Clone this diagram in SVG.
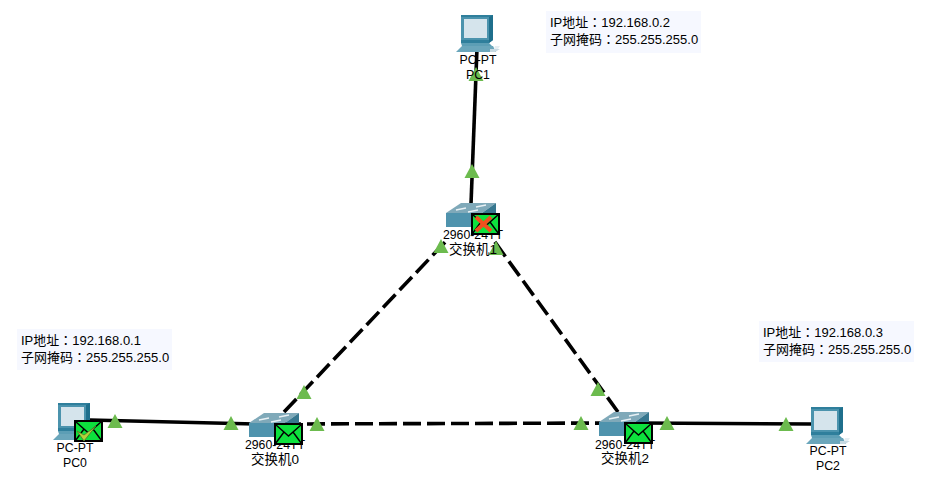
<svg xmlns="http://www.w3.org/2000/svg" width="933" height="502" viewBox="0 0 933 502">
<style>
text{font-family:"Liberation Sans","Noto Sans CJK TC",sans-serif;font-size:12.3px;fill:#000}
.c{text-anchor:middle}
.cjk{font-size:13.5px}
.n{font-size:13px}
.note{fill:#f6f8ff}
.solid{stroke:#000;stroke-width:3.6;fill:none}
.dash{stroke:#000;stroke-width:3.6;fill:none;stroke-dasharray:18 6}
.tri{fill:#6cbb4e}
</style>
<defs>
<g id="pc">
<path d="M5 0H37V25L33 28H5Z" fill="#2f7f9c"/>
<path d="M5 2L33 2V25H5Z" fill="#4b93ad"/>
<rect x="8" y="4" width="23" height="19" fill="#d5e4ec"/>
<path d="M33 2L37 0V25L33 28Z" fill="#1f6f8c"/>
<path d="M5 28H33L36 31H6Z" fill="#5c9eb5"/>
<path d="M0 37L6 31H37L40 37Z" fill="#6aa6bb"/>
<path d="M34 34L44 34L39 37H34Z" fill="#c6d9e2"/>
<path d="M39 31L44 31L42 34H38Z" fill="#e6eef2"/>
</g>
<g id="sw">
<path d="M0 10L15 0H50L36 10Z" fill="#7fa9b9"/>
<path d="M0 10H36V24H0Z" fill="#4f93ad"/>
<path d="M36 10L50 0V14L36 24Z" fill="#37778f"/>
<path d="M10 7L20 5M30 4L40 2M22 9L32 7" stroke="#e8f0f4" stroke-width="1.5"/>
</g>
<g id="env">
<rect x="0" y="0" width="27" height="20" fill="#0de23d" stroke="#000" stroke-width="2"/>
<path d="M0.5 0.5L13.500 12L26.500 0.5M0.5 19.500L9 8M26.500 19.500L18 8" fill="none" stroke="#000" stroke-width="1.4"/>
</g>
</defs>
<g id="connectors">
<path class="solid" d="M477 48L471 204"/>
<path class="dash" d="M284 412L449 238"/>
<path class="dash" d="M618 412L492 238"/>
<path class="dash" d="M283 424L622 423"/>
<path class="solid" d="M90 420L255 424"/>
<path class="solid" d="M640 423L812 424"/>
<path class="tri" d="M476 67L483.500 81H468.500Z"/>
<path class="tri" d="M472 164L479.500 178H464.500Z"/>
<path class="tri" d="M441 239L448.500 253H433.500Z"/>
<path class="tri" d="M496 241L503.500 255H488.500Z"/>
<path class="tri" d="M304 385L311.500 399H296.500Z"/>
<path class="tri" d="M598 382L605.500 396H590.500Z"/>
<path class="tri" d="M231 416L238.500 430H223.500Z"/>
<path class="tri" d="M317 417L324.500 431H309.500Z"/>
<path class="tri" d="M581 416L588.500 430H573.500Z"/>
<path class="tri" d="M667 416L674.500 430H659.500Z"/>
<path class="tri" d="M786 417L793.500 431H778.500Z"/>
<path class="tri" d="M115 414L122.500 428H107.500Z"/>
</g>
<g id="PC1">
<use href="#pc" x="456" y="15"/>
<text class="c" x="478" y="64">PC-PT</text>
<text class="c" x="478" y="79">PC1</text>
</g>
<g id="PC0">
<use href="#pc" x="53" y="403"/>
<text class="c" x="75" y="452">PC-PT</text>
<text class="c" x="75" y="467">PC0</text>
<use href="#env" x="75" y="421"/>
<path d="M77 431L84 441L96 426L84 435Z" fill="#b5cf3a" stroke="#4f7f2a" stroke-width=".9"/>
</g>
<g id="PC2">
<use href="#pc" x="806" y="407"/>
<text class="c" x="828" y="455">PC-PT</text>
<text class="c" x="828" y="470">PC2</text>
</g>
<g id="sw1">
<use href="#sw" x="446" y="203"/>
<text class="c" x="473" y="239">2960-24TT</text>
<text class="c cjk" x="473" y="254">交换机1</text>
<use href="#env" x="472" y="214"/>
<path d="M476 217L491 231M491 217L476 231" stroke="#f0501e" stroke-width="4"/>
</g>
<g id="sw0">
<use href="#sw" x="249" y="413"/>
<text class="c" x="275" y="449">2960-24TT</text>
<text class="c cjk" x="275" y="464">交换机0</text>
<use href="#env" x="275" y="424"/>
</g>
<g id="sw2">
<use href="#sw" x="599" y="412"/>
<text class="c" x="625" y="449">2960-24TT</text>
<text class="c cjk" x="625" y="463">交换机2</text>
<use href="#env" x="625" y="423"/>
</g>
<g id="note1">
<rect class="note" x="546" y="11" width="155" height="42"/>
<text class="n" x="550" y="27">IP地址：192.168.0.2</text>
<text class="n" x="550" y="44">子网掩码：255.255.255.0</text>
</g>
<g id="note0">
<rect class="note" x="17" y="329" width="155" height="41"/>
<text class="n" x="21" y="345">IP地址：192.168.0.1</text>
<text class="n" x="21" y="362">子网掩码：255.255.255.0</text>
</g>
<g id="note2">
<rect class="note" x="759" y="321" width="155" height="41"/>
<text class="n" x="763" y="337">IP地址：192.168.0.3</text>
<text class="n" x="763" y="354">子网掩码：255.255.255.0</text>
</g>
</svg>
